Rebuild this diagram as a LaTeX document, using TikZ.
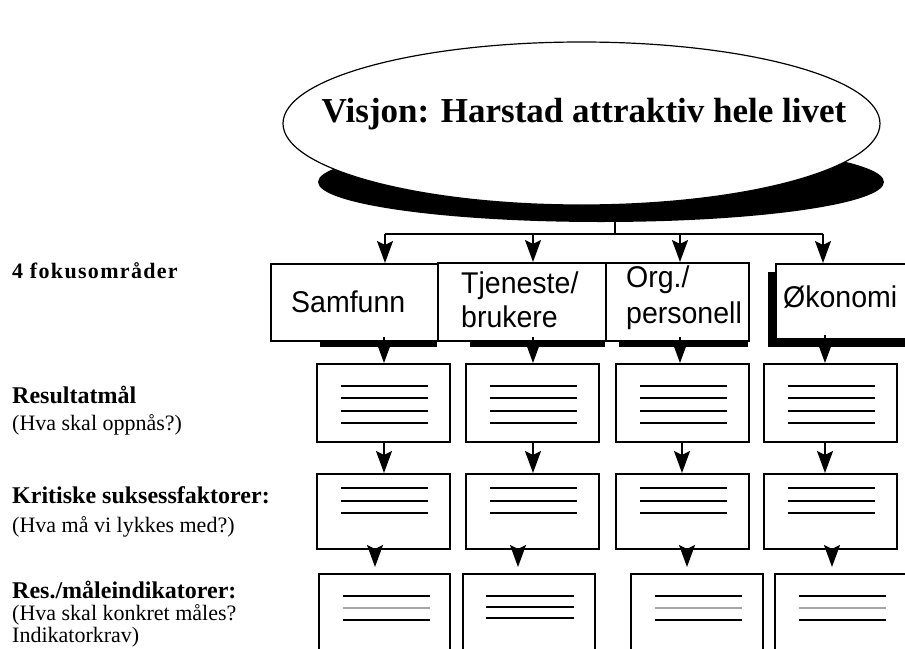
\documentclass[tikz,border=0pt]{standalone}
\usepackage{fontspec}
\setmainfont{Liberation Serif}
\newfontfamily\boksfont[FakeStretch=0.95]{Liberation Sans}
\usetikzlibrary{shapes.geometric,arrows.meta}

\begin{document}
\begin{tikzpicture}[x=1pt, y=-1pt,
    boks/.style={draw, fill=white, line width=1.8pt, inner sep=0pt, anchor=north west},
    pil/.style={line width=1.6pt, -{Stealth[length=22pt, width=16pt, inset=4pt]}},
    strek/.style={line width=2.6pt},
    tynn/.style={line width=1.3pt},
    graa/.style={line width=1.8pt, gray!70},
    overskrift/.style={anchor=base west, inner sep=0pt, font=\bfseries\fontsize{24}{27}\selectfont},
    forklaring/.style={anchor=base west, inner sep=0pt, font=\fontsize{22}{25}\selectfont},
    fokustekst/.style={anchor=base west, inner sep=0pt, font=\boksfont\fontsize{30}{34}\selectfont}]

\useasboundingbox (0,0) rectangle (905,648);
\clip (0,0) rectangle (905,648);

% visjonen med skygge
\node[ellipse, fill=black, inner sep=0pt, minimum width=566pt, minimum height=80pt] (skygge) at (601,182) {};
\node[ellipse, draw, fill=white, line width=1.2pt, inner sep=0pt, minimum width=597pt, minimum height=163pt] (visjon) at (581.5,123.5) {};
\node[anchor=base, inner sep=0pt, font=\bfseries\fontsize{35}{40}\selectfont] (tittel) at (584,122) {Visjon: Harstad attraktiv hele livet};

\coordinate (gren) at (615,234);
\coordinate (venstre) at (385,234);
\coordinate (hoyre) at (823,234);
\draw[line width=1.6pt] (gren |- skygge.south) -- (gren);
\draw[line width=1.6pt] (venstre) -- (hoyre);

% fokusomraadene
\fill (320,340) rectangle (437,347);
\fill (470,340) rectangle (605,347);
\fill (619,340) rectangle (748,347);
\fill (768,272) rectangle (912,347);
\node[boks, minimum width=167pt, minimum height=77pt] (f1) at (270,263) {};
\node[boks, minimum width=168pt, minimum height=78pt] (f2) at (437,262) {};
\node[boks, minimum width=143pt, minimum height=78pt] (f3) at (605,262) {};
\node[boks, minimum width=140pt, minimum height=75pt] (f4) at (775,263) {};

\node[fokustekst] (t1) at (291,312) {Samfunn};
\node[fokustekst] (t2a) at (461,293) {Tjeneste/};
\node[fokustekst] (t2b) at (461,327) {brukere};
\node[fokustekst] (t3a) at (626,287) {Org./};
\node[fokustekst] (t3b) at (626,323) {personell};
\node[fokustekst] (t4) at (783,307) {Økonomi};

\foreach \x/\b in {385/f1, 533/f2, 680/f3, 823/f4}
    \draw[pil] (\x,234) -- (\x,0 |- \b.north);

% resultatmaal
\foreach \n/\x in {a/316, b/465, c/615, d/763}{
    \node[boks, minimum width=133pt, minimum height=78pt] (r2\n) at (\x,363) {};
    \draw[strek] (\x+25,386) -- ++(87,0);
    \draw[strek] (\x+25,398) -- ++(87,0);
    \draw[strek] (\x+25,411) -- ++(87,0);
    \draw[tynn] (\x+25,423) -- ++(87,0);
}
\foreach \x/\a/\b in {384/f1/r2a, 533/f2/r2b, 680/f3/r2c, 825/f4/r2d}
    \draw[pil, shorten <=-5pt] (\x,0 |- \a.south) -- (\x,0 |- \b.north);

% kritiske suksessfaktorer
\foreach \n/\x in {a/316, b/465, c/615, d/763}{
    \node[boks, minimum width=133pt, minimum height=75pt] (r3\n) at (\x,473) {};
    \draw[strek] (\x+25,488) -- ++(87,0);
    \draw[tynn] (\x+25,501) -- ++(87,0);
    \draw[strek] (\x+25,513) -- ++(87,0);
}
\foreach \x/\a/\b in {384/r2a/r3a, 533/r2b/r3b, 682/r2c/r3c, 825/r2d/r3d}
    \draw[pil] (\x,0 |- \a.south) -- (\x,0 |- \b.north);

% maaleindikatorer
\foreach \n/\x/\w in {a/318/131, b/462/132, c/630/132, d/774/135}
    \node[boks, minimum width=\w pt, minimum height=110pt] (r4\n) at (\x,573) {};
\foreach \x in {318, 630, 774}{
    \draw[strek] (\x+25,596) -- ++(87,0);
    \draw[graa] (\x+25,608) -- ++(87,0);
    \draw[strek] (\x+25,620) -- ++(87,0);
}
\draw[strek] (486,596) -- (574,596);
\draw[strek] (486,607) -- (574,607);
\draw[strek] (486,618) -- (574,618);
\foreach \x/\a/\b in {375/r3a/r4a, 518/r3b/r4b, 687/r3c/r4c, 832/r3d/r4d}
    \draw[pil, shorten <=-5pt, shorten >=6pt] (\x,0 |- \a.south) -- (\x,0 |- \b.north);

% etiketter til venstre
\node[overskrift, font=\bfseries\fontsize{22}{24}\selectfont\addfontfeature{LetterSpace=6}] (l0) at (12,278) {4 fokusområder};
\node[overskrift] (l1) at (12,403) {Resultatmål};
\node[forklaring] (l1b) at (12,430) {(Hva skal oppnås?)};
\node[overskrift] (l2) at (12,503) {Kritiske suksessfaktorer:};
\node[forklaring] (l2b) at (12,532) {(Hva må vi lykkes med?)};
\node[overskrift] (l3) at (12,598) {Res./måleindikatorer:};
\node[forklaring] (l3b) at (12,620) {(Hva skal konkret måles?};
\node[forklaring] (l3c) at (12,642) {Indikatorkrav)};

\end{tikzpicture}
\end{document}
